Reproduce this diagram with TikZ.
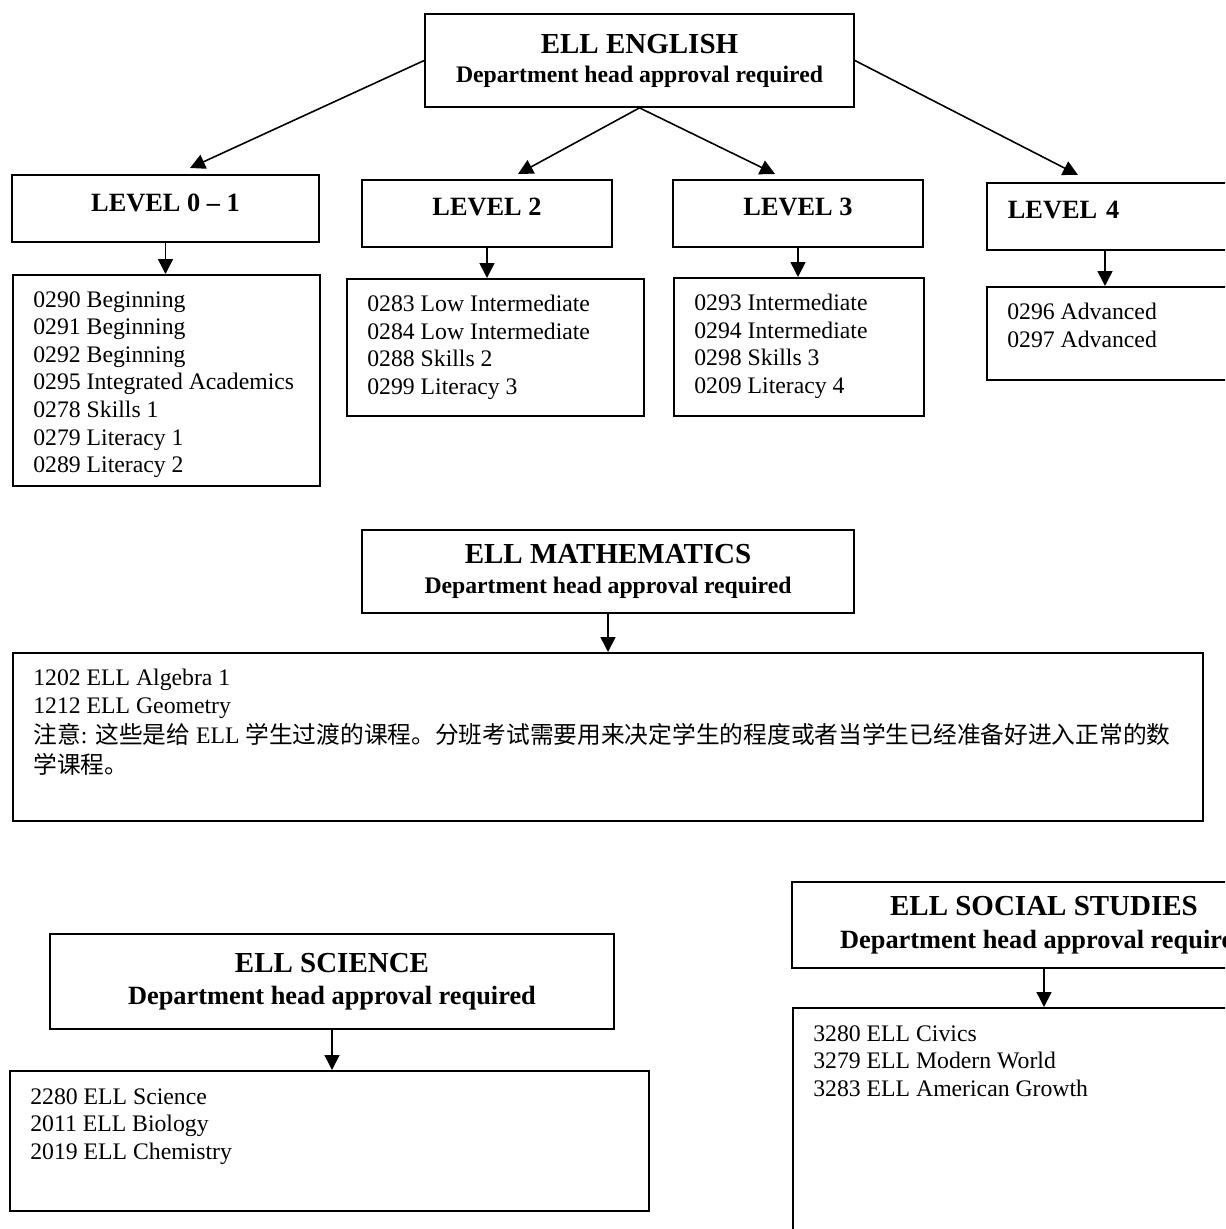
\documentclass[tikz,border=0pt]{standalone}
\usepackage{fontspec}
\setmainfont{Liberation Serif}
\newfontfamily\cjk{Noto Sans CJK SC}
\usetikzlibrary{positioning, arrows.meta}
\newcommand{\headline}[1]{{\fontsize{16.5}{18}\selectfont #1}}
\newcommand{\approvalline}{Department head approval required}

\begin{document}
\begin{tikzpicture}[
  x=0.02cm, y=-0.02cm,
  box/.style={rectangle, draw, line width=1pt, inner sep=0pt},
  headbox/.style={box, align=center, font=\bfseries\fontsize{13.5}{16.5}\selectfont},
  levelbox/.style={box, minimum height=1.34cm, text depth=0.25cm, font=\bfseries\fontsize{15}{18}\selectfont},
  listbox/.style={box, anchor=north west},
  items/.style={align=left, inner sep=0pt, font=\fontsize{13.5}{15.7}\selectfont},
  arr/.style={-{Triangle[length=0.3cm, width=0.3cm]}, line width=0.9pt},
]
  \useasboundingbox (0,0) rectangle (1225,1229);
  \clip (0,0) rectangle (1225,1229);

  % English
  \node[headbox, minimum width=8.58cm, minimum height=1.86cm] (eng) at (639.5,60.5) {\headline{ELL ENGLISH}\\ \approvalline};

  \node[levelbox, minimum width=6.14cm] (l01) at (165.5,208.5) {LEVEL 0 – 1};
  \node[levelbox, minimum width=5cm] (l2) at (487,213.5) {LEVEL 2};
  \node[levelbox, minimum width=5cm] (l3) at (798,213.5) {LEVEL 3};
  \node[levelbox, anchor=north west, text width=4.9cm, align=left, inner xsep=0.42cm] (l4) at (986,182) {LEVEL 4};

  \coordinate (tip01) at (190,168);
  \coordinate (tip2) at (518,174);
  \coordinate (tip3) at (775,174);
  \coordinate (tip4) at (1078,175);
  \draw[arr] (eng.west) -- (tip01);
  \draw[arr] (eng.south) -- (tip2);
  \draw[arr] (eng.south) -- (tip3);
  \draw[arr] (eng.east) -- (tip4);

  % Course lists
  \node[listbox, minimum width=6.14cm, minimum height=4.22cm] (li01) at (12,274) {};
  \node[items, below right=0.34cm and 0.42cm of li01.north west] (txt01) {0290 Beginning\\ 0291 Beginning\\ 0292 Beginning\\ 0295 Integrated Academics\\ 0278 Skills 1\\ 0279 Literacy 1\\ 0289 Literacy 2};
  \node[listbox, minimum width=5.94cm, minimum height=2.74cm] (li2) at (346,278) {};
  \node[items, below right=0.34cm and 0.42cm of li2.north west] (txt2) {0283 Low Intermediate\\ 0284 Low Intermediate\\ 0288 Skills 2\\ 0299 Literacy 3};
  \node[listbox, minimum width=5cm, minimum height=2.76cm] (li3) at (673,277) {};
  \node[items, below right=0.34cm and 0.42cm of li3.north west] (txt3) {0293 Intermediate\\ 0294 Intermediate\\ 0298 Skills 3\\ 0209 Literacy 4};
  \node[listbox, minimum width=6cm, minimum height=1.86cm] (li4) at (986,286) {};
  \node[items, below right=0.34cm and 0.42cm of li4.north west] (txt4) {0296 Advanced\\ 0297 Advanced};

  \draw[arr] (l01.south) -- (l01.south |- li01.north);
  \draw[arr] (l2.south) -- (l2.south |- li2.north);
  \draw[arr] (l3.south) -- (l3.south |- li3.north);
  \draw[arr] ([xshift=2.38cm]l4.south west) -- ([xshift=2.38cm]li4.north west);

  % Mathematics
  \node[headbox, minimum width=9.84cm, minimum height=1.66cm] (math) at (608,571.5) {\headline{ELL MATHEMATICS}\\[1pt] \approvalline};
  \node[listbox, minimum width=23.8cm, minimum height=3.36cm] (mathli) at (12,652) {};
  \node[items, below right=0.34cm and 0.42cm of mathli.north west] (txtmath) {1202 ELL Algebra 1\\ 1212 ELL Geometry\\[1.5pt]
    {\cjk 注意}: {\cjk 这些是给} ELL {\cjk 学生过渡的课程。分班考试需要用来决定学生的程度或者当学生已经准备好进入正常的数}\\[1.5pt]
    {\cjk 学课程。}};
  \draw[arr] (math.south) -- (math.south |- mathli.north);

  % Science
  \node[headbox, minimum width=11.28cm, minimum height=1.9cm] (sci) at (332,981.5) {\headline{ELL SCIENCE}\\[2pt] {\fontsize{15}{18}\selectfont\approvalline}};
  \node[listbox, minimum width=12.78cm, minimum height=2.8cm] (scili) at (9,1070) {};
  \node[items, below right=0.36cm and 0.42cm of scili.north west] (txtsci) {2280 ELL Science\\ 2011 ELL Biology\\ 2019 ELL Chemistry};
  \draw[arr] (sci.south) -- (sci.south |- scili.north);

  % Social studies
  \node[headbox, minimum width=10.08cm, minimum height=1.72cm] (soc) at (1044,925) {\headline{ELL SOCIAL STUDIES}\\[2pt] {\fontsize{15}{18}\selectfont\approvalline}};
  \node[listbox, minimum width=10cm, minimum height=5cm] (socli) at (792,1007) {};
  \node[items, below right=0.36cm and 0.42cm of socli.north west] (txtsoc) {3280 ELL Civics\\ 3279 ELL Modern World\\ 3283 ELL American Growth};
  \draw[arr] (soc.south) -- (soc.south |- socli.north);

\end{tikzpicture}
\end{document}
